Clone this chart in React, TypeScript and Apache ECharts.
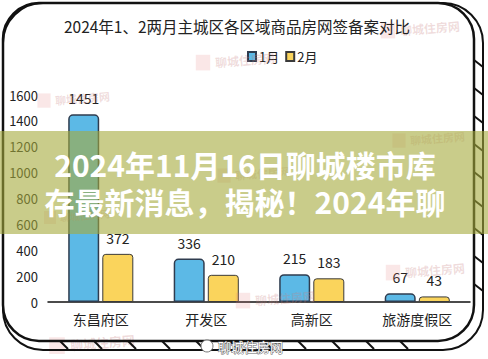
import React, { useEffect, useRef } from "react";
import * as echarts from "echarts";

const categories = ["东昌府区", "开发区", "高新区", "旅游度假区"];
const janValues = [1451, 336, 215, 67];
const febValues = [372, 210, 183, 43];
const seriesNames = ["1月", "2月"];
const titleText = "2024年1、2两月主城区各区域商品房网签备案对比";
const bannerLines = ["2024年11月16日聊城楼市库", "存最新消息，揭秘！2024年聊"];
const watermarkText = "聊城住房网";

const FONT = "'Noto Sans CJK SC', 'Noto Sans', sans-serif";

export default function App() {
  const ref = useRef<HTMLDivElement>(null);
  useEffect(() => {
    if (!ref.current) return;
    const chart = echarts.init(ref.current, null, { renderer: "svg" });

    const rungs: any[] = [];
    for (let y = 60; y <= 290; y += 28) {
      rungs.push({ type: "line", shape: { x1: 474, y1: y, x2: 483, y2: y + 7 }, style: { stroke: "#111", lineWidth: 2 }, z: 60 });
    }
    for (let x = 60; x <= 430; x += 34) {
      rungs.push({ type: "line", shape: { x1: x, y1: 341, x2: x + 8, y2: 349 }, style: { stroke: "#111", lineWidth: 2 }, z: 60 });
    }

    const wm = (x: number, y: number, size: number) => [
      { type: "rect", shape: { x: x - size * 1.6, y: y - size * 0.6, width: size * 1.2, height: size * 1.3 }, style: { fill: "rgba(230,120,120,0.18)" }, z: 5 },
      { type: "text", x, y, rotation: 0.08, style: { text: watermarkText, fill: "rgba(200,130,130,0.28)", font: `bold ${size}px ${FONT}`, textAlign: "left", textVerticalAlign: "middle" }, z: 5 },
    ];

    chart.setOption({
      animation: false,
      backgroundColor: "#ffffff",
      title: {
        text: titleText,
        left: 232,
        textAlign: "center",
        top: 13,
        textStyle: { fontFamily: FONT, fontSize: 15.5, fontWeight: "normal", color: "#222" },
      },
      legend: {
        data: seriesNames,
        left: 242,
        top: 45,
        textAlign: "center",
        itemWidth: 8,
        itemHeight: 9,
        itemGap: 6,
        icon: "rect",
        textStyle: { fontFamily: FONT, fontSize: 13, color: "#222", padding: [0, 0, 0, -2] },
      },
      grid: { left: 48, right: 18, top: 95, bottom: 57, containLabel: false },
      xAxis: {
        type: "category",
        data: categories,
        axisLine: { lineStyle: { color: "#111", width: 1.5 } },
        axisTick: { show: false },
        axisLabel: { fontFamily: FONT, fontSize: 14, color: "#222", margin: 10 },
      },
      yAxis: {
        type: "value",
        min: 0,
        max: 1600,
        interval: 200,
        splitLine: { show: false },
        axisLine: { show: false },
        axisTick: { show: false },
        axisLabel: { fontFamily: FONT, fontSize: 13, color: "#222", margin: 10, formatter: (v: number) => String(v) },
      },
      series: [
        {
          name: seriesNames[0],
          type: "bar",
          data: janValues,
          barWidth: 31,
          barGap: "10%",
          itemStyle: { color: "#5cb9e6", borderColor: "#2f3c4f", borderWidth: 1.5, borderRadius: [4, 4, 0, 0] },
          label: { show: true, position: "top", distance: 9, fontFamily: FONT, fontSize: 14, color: "#222" },
        },
        {
          name: seriesNames[1],
          type: "bar",
          data: febValues,
          barWidth: 31,
          itemStyle: { color: "#fad45c", borderColor: "#3a3a3a", borderWidth: 1, borderRadius: [3, 3, 0, 0] },
          label: { show: true, position: "top", distance: 9, fontFamily: FONT, fontSize: 14, color: "#222" },
        },
      ],
      graphic: [
        ...wm(400, 30, 12),
        ...wm(215, 62, 12),
        ...wm(55, 100, 11),
        ...wm(410, 140, 11),
        ...wm(235, 175, 11),
        ...wm(60, 217, 10),
        ...wm(255, 300, 12),
        ...wm(405, 272, 12),
        ...wm(70, 345, 13),
        { type: "rect", shape: { x: 3, y: 3, width: 480, height: 347, r: 40 }, style: { fill: "none", stroke: "#111", lineWidth: 2 }, z: 50 },
        { type: "rect", shape: { x: 3, y: 3, width: 471, height: 338, r: 36 }, style: { fill: "none", stroke: "#111", lineWidth: 2.5 }, z: 51 },
        ...rungs,
        { type: "rect", shape: { x: 0, y: 131, width: 488, height: 103 }, style: { fill: "rgba(165,170,60,0.6)" }, z: 100 },
        {
          type: "text", x: 245, y: 182, z: 101,
          style: { text: bannerLines.join("\n"), fill: "#ffffff", font: `bold 30px ${FONT}`, lineHeight: 37, textAlign: "center", textVerticalAlign: "middle", shadowColor: "rgba(0,0,0,0.25)", shadowBlur: 2, shadowOffsetX: 1, shadowOffsetY: 1 },
        },
        { type: "circle", shape: { cx: 207, cy: 346, r: 6 }, style: { fill: "#ffffff", stroke: "#777", lineWidth: 1 }, z: 102 },
        {
          type: "text", x: 218, y: 346, z: 102,
          style: { text: watermarkText, fill: "#ffffff", stroke: "#666", lineWidth: 1, font: `13px ${FONT}`, textAlign: "left", textVerticalAlign: "middle" },
        },
      ],
    });
    return () => chart.dispose();
  }, []);
  return <div ref={ref} style={{ width: 488, height: 359, position: "absolute", left: 0, top: 0 }} />;
}
